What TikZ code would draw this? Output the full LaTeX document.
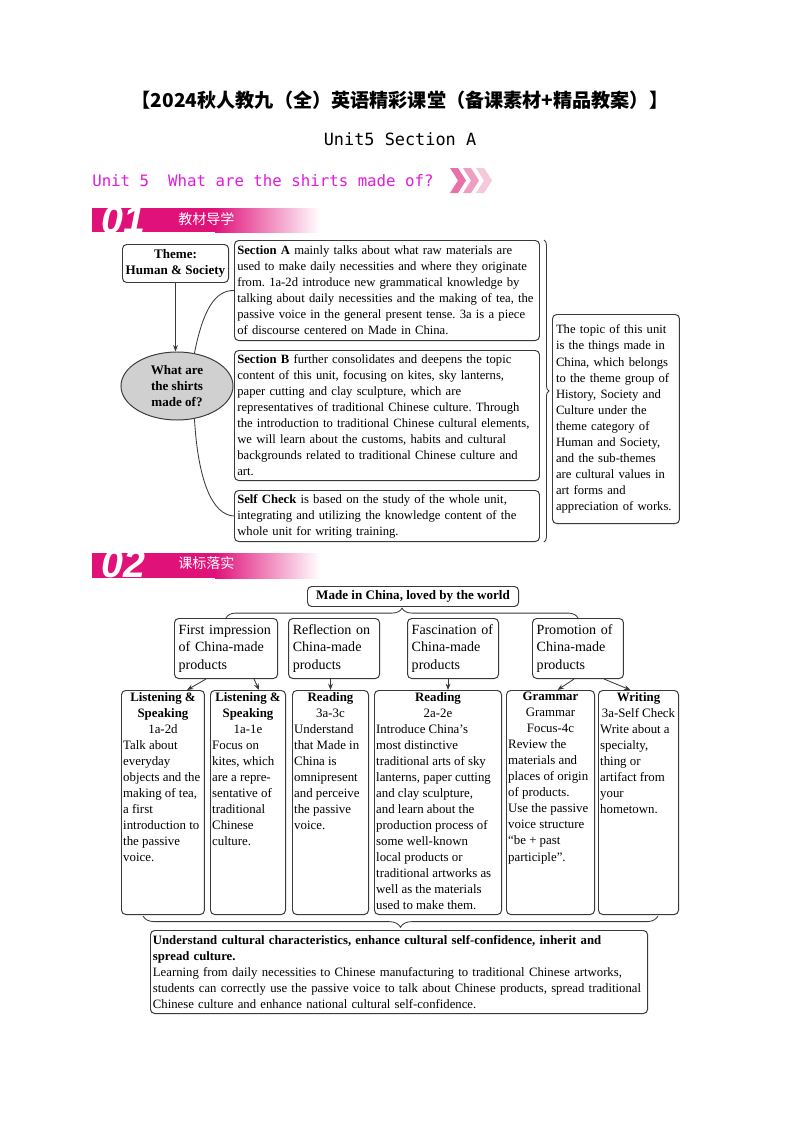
\documentclass[tikz,border=0pt]{standalone}
\usepackage{fontspec}
\setmainfont{Liberation Serif}
\setsansfont{Liberation Sans}
\setmonofont{DejaVu Sans Mono}
\newfontfamily\cjk{Noto Sans CJK SC}
\usepackage{tikz}
\usetikzlibrary{positioning, arrows.meta, shapes.geometric, calc, decorations.pathreplacing}
\definecolor{unitPink}{HTML}{E31BDF}
\definecolor{bannerPink}{HTML}{E0127A}
\definecolor{chevA}{HTML}{E872A8}
\definecolor{chevB}{HTML}{EF9EC3}
\definecolor{chevC}{HTML}{F6C8DC}
\definecolor{lineGray}{HTML}{3A3A3A}
\definecolor{bubbleGray}{HTML}{D0D0D0}
\frenchspacing

\begin{document}
\begin{tikzpicture}[x=0.025cm, y=-0.025cm,
    box/.style={draw=lineGray, line width=0.7pt, rounded corners=3pt, inner sep=2pt,
      font=\fontsize{9}{11.4}\selectfont},
    secbox/.style={box, anchor=north west, align=left, text width=212.9pt},
    midbox/.style={box, align=left, inner sep=3pt, text width=58.7pt, minimum height=1.5cm,
      font=\fontsize{10}{12.5}\selectfont},
    lowbox/.style={box, anchor=north west, inner sep=1.2pt, font=\fontsize{9.15}{11.4}\selectfont},
    bubble/.style={ellipse, draw=lineGray, fill=bubbleGray, line width=0.7pt, inner sep=0pt,
      minimum width=2.8cm, minimum height=1.7cm, align=center,
      font=\bfseries\fontsize{9.3}{11.4}\selectfont},
    banner/.style={text=white, anchor=west, inner sep=0pt},
    arr/.style={-{Stealth[length=1.6mm, width=1.2mm]}, line width=0.6pt, lineGray},
    link/.style={line width=0.6pt, lineGray},
    curly/.style={decorate, decoration={brace, amplitude=#1}, line width=0.6pt, lineGray}]

  \fill[white] (0,0) rectangle (800,1131);
  \useasboundingbox (0,0) rectangle (800,1131);

  % heading
  \node[font=\cjk\bfseries\fontsize{13.6}{13.6}\selectfont] (title) at (400,100)
    {【2024秋人教九（全）英语精彩课堂（备课素材+精品教案）】};
  \node[font=\ttfamily\fontsize{12}{12}\selectfont] (sub) at (400,139) {Unit5 Section A};
  \node[anchor=west, inner sep=0pt, text=unitPink, font=\ttfamily\fontsize{11.2}{11.2}\selectfont]
    (unit) at (92,181) {Unit 5\ \ What are the shirts made of?};
  \foreach \i/\c in {0/chevA, 1/chevB, 2/chevC}
    \fill[\c] ({450+13*\i},168) -- ++(8,0) -- ++(8,12.5) -- ++(-8,12.5) -- ++(-8,0) -- ++(8,-12.5) -- cycle;

  % 01 textbook guide
  \fill[bannerPink] (92,208) rectangle (215,232);
  \shade[left color=bannerPink, right color=white] (215,208) rectangle (320,232);
  \node[banner, font=\sffamily\bfseries\itshape\fontsize{28}{28}\selectfont] (no1) at (101,220) {01};
  \node[banner, font=\cjk\fontsize{10}{10}\selectfont] (tag1) at (178,219) {教材导学};

  \node[box, anchor=north west, align=center, minimum width=2.65cm, minimum height=0.95cm,
    font=\bfseries\fontsize{9.3}{11.4}\selectfont] (theme) at (122,244) {Theme:\\Human \& Society};
  \node[bubble] (q) at (177,386) {What are\\the shirts\\made of?};
  \node[secbox, minimum height=2.5cm] (secA) at (234,240)
    {\textbf{Section A} mainly talks about what raw materials are\\
     used to make daily necessities and where they originate\\
     from. 1a-2d introduce new grammatical knowledge by\\
     talking about daily necessities and the making of tea, the\\
     passive voice in the general present tense. 3a is a piece\\
     of discourse centered on Made in China.};
  \node[secbox, minimum height=3.25cm] (secB) at (234,350)
    {\textbf{Section B} further consolidates and deepens the topic\\
     content of this unit, focusing on kites, sky lanterns,\\
     paper cutting and clay sculpture, which are\\
     representatives of traditional Chinese culture. Through\\
     the introduction to traditional Chinese cultural elements,\\
     we will learn about the customs, habits and cultural\\
     backgrounds related to traditional Chinese culture and\\
     art.};
  \node[secbox, minimum height=1.275cm] (selfc) at (234,490)
    {\textbf{Self Check} is based on the study of the whole unit,\\
     integrating and utilizing the knowledge content of the\\
     whole unit for writing training.};
  \node[box, anchor=north west, align=left, text width=85.3pt, inner sep=2.5pt,
    minimum height=5.225cm] (topic) at (552,314)
    {The topic of this unit\\is the things made in\\China, which belongs\\to the theme group of\\
     History, Society and\\Culture under the\\theme category of\\Human and Society,\\
     and the sub-themes\\are cultural values in\\art forms and\\appreciation of works.};

  \draw[arr] (theme.south) -- (theme.south |- q.north);
  \draw[link] (q.62) .. controls (203,310) and (215,290) .. (secA.west);
  \draw[link] (q.east) -- (q.east -| secB.west);
  \draw[link] (q.-62) .. controls (198,480) and (212,515) .. (selfc.west);
  \draw[curly=3.5pt] ($(secA.north east)+(4,0)$) -- ($(selfc.south east)+(4,0)$);

  % 02 curriculum standards
  \fill[bannerPink] (92,553) rectangle (215,578);
  \shade[left color=bannerPink, right color=white] (215,553) rectangle (320,578);
  \node[banner, font=\sffamily\bfseries\itshape\fontsize{28}{28}\selectfont] (no2) at (101,564) {02};
  \node[banner, font=\cjk\fontsize{10}{10}\selectfont] (tag2) at (178,563) {课标落实};

  \node[box, anchor=north west, minimum width=5.275cm, minimum height=0.5cm, inner sep=1pt,
    font=\bfseries\fontsize{9.3}{11.4}\selectfont] (root) at (307,586) {Made in China, loved by the world};

  \node[midbox, anchor=north west, text width=67.3pt] (first) at (174,618)
    {First impression\\of China-made\\products};
  \node[midbox, right=0.25cm of first] (refl) {Reflection on\\China-made\\products};
  \node[midbox, right=0.675cm of refl] (fasc) {Fascination of\\China-made\\products};
  \node[midbox, right=0.825cm of fasc] (promo) {Promotion of\\China-made\\products};
  \draw[curly=7pt] (first.north) -- (promo.north);

  \node[lowbox] (ls1) at (121,690) {\parbox[t][156.9pt][t]{56.6pt}{%
    {\centering\textbf{Listening \&}\\\textbf{Speaking}\\1a-2d\par}%
    Talk about\\everyday\\objects and the\\making of tea,\\a first\\introduction to\\the passive\\voice.}};
  \node[lowbox] (ls2) at (210,690) {\parbox[t][156.9pt][t]{50.95pt}{%
    {\centering\textbf{Listening \&}\\\textbf{Speaking}\\1a-1e\par}%
    Focus on\\kites, which\\are a repre-\\sentative of\\traditional\\Chinese\\culture.}};
  \node[lowbox] (rd1) at (292,690) {\parbox[t][156.9pt][t]{51.66pt}{%
    {\centering\textbf{Reading}\\3a-3c\par}%
    Understand\\that Made in\\China is\\omnipresent\\and perceive\\the passive\\voice.}};
  \node[lowbox] (rd2) at (374,690) {\parbox[t][156.9pt][t]{87.94pt}{%
    {\centering\textbf{Reading}\\2a-2e\par}%
    Introduce China’s\\most distinctive\\traditional arts of sky\\lanterns, paper cutting\\
    and clay sculpture,\\and learn about the\\production process of\\some well-known\\
    local products or\\traditional artworks as\\well as the materials\\used to make them.}};
  \node[lowbox] (gr) at (506,690) {\parbox[t][156.9pt][t]{60.2pt}{%
    {\centering\textbf{Grammar}\\Grammar\\Focus-4c\par}%
    Review the\\materials and\\places of origin\\of products.\\Use the passive\\
    voice structure\\“be + past\\participle”.}};
  \node[lowbox] (wr) at (598,690) {\parbox[t][156.9pt][t]{54.5pt}{%
    {\centering\textbf{Writing}\\3a-Self Check\par}%
    Write about a\\specialty,\\thing or\\artifact from\\your\\hometown.}};

  \draw[arr] ($(first.south)+(-20,0)$) -- ($(ls1.north)+(24,0)$);
  \draw[arr] ($(first.south)+(28,0)$) -- ($(ls2.north)+(11,0)$);
  \draw[arr] (refl.south -| rd1.north) -- (rd1.north);
  \draw[arr] ($(fasc.south)+(-5,0)$) -- ($(fasc.south |- rd2.north)+(-5,0)$);
  \draw[arr] ($(promo.south)+(-4,0)$) -- ($(gr.north)+(7,0)$);
  \draw[arr] ($(promo.south)+(26,0)$) -- ($(wr.north)+(-8,0)$);

  \draw[curly=8pt] ($(wr.south east)+(-21,1)$) -- ($(ls1.south west)+(22,1)$);
  \node[box, anchor=north west, align=left, text width=350pt, inner sep=1.75pt,
    minimum height=2.075cm, font=\fontsize{9.05}{11.4}\selectfont] (goal) at (150,930)
    {\textbf{Understand cultural characteristics, enhance cultural self-confidence, inherit and}\\
     \textbf{spread culture.}\\
     Learning from daily necessities to Chinese manufacturing to traditional Chinese artworks,\\
     students can correctly use the passive voice to talk about Chinese products, spread traditional\\
     Chinese culture and enhance national cultural self-confidence.};
\end{tikzpicture}
\end{document}
